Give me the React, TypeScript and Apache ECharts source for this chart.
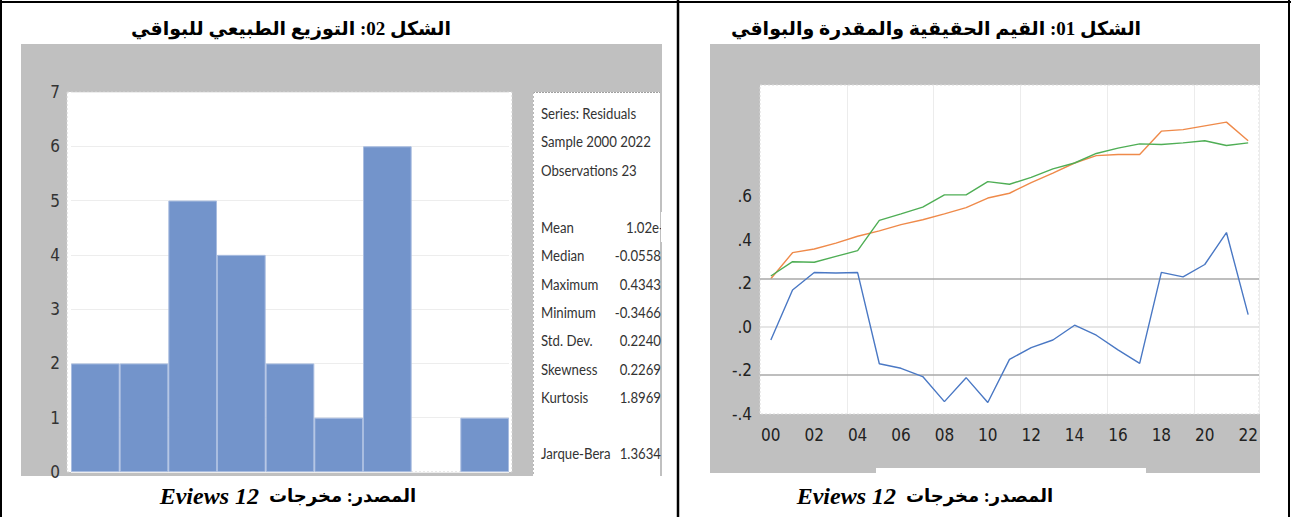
import React, { useEffect, useRef } from "react";
import * as echarts from "echarts";

// ---------- data ----------
const binLabels = ["-0.4", "-0.3", "-0.2", "-0.1", "0.0", "0.1", "0.2", "0.3", "0.4"];
const binCounts = [2, 2, 5, 4, 2, 1, 6, 0, 1];
const histTicks = [0, 1, 2, 3, 4, 5, 6, 7];

const statLabels = ["Mean", "Median", "Maximum", "Minimum", "Std. Dev.", "Skewness", "Kurtosis"];
const statValues = ["1.02e-17", "-0.0558", "0.4343", "-0.3466", "0.2240", "0.2269", "1.8969"];
const headerLines = ["Series: Residuals", "Sample 2000 2022", "Observations 23"];
const jbLabel = "Jarque-Bera";
const jbValue = "1.3634";

const years = ["00", "01", "02", "03", "04", "05", "06", "07", "08", "09", "10", "11",
  "12", "13", "14", "15", "16", "17", "18", "19", "20", "21", "22"];
const residual = [-0.060, 0.170, 0.250, 0.248, 0.250, -0.169, -0.190, -0.228, -0.343, -0.233,
  -0.347, -0.149, -0.095, -0.060, 0.008, -0.038, -0.105, -0.167, 0.251, 0.230, 0.287, 0.434, 0.057];
const actual = [2.55, 3.04, 3.11, 3.22, 3.35, 3.45, 3.57, 3.66, 3.77, 3.89, 4.07, 4.16,
  4.36, 4.54, 4.73, 4.87, 4.89, 4.89, 5.33, 5.36, 5.43, 5.50, 5.15];
const fitted = [2.60, 2.87, 2.86, 2.97, 3.08, 3.65, 3.77, 3.90, 4.13, 4.13, 4.38, 4.33,
  4.46, 4.62, 4.73, 4.91, 5.01, 5.09, 5.08, 5.11, 5.15, 5.06, 5.11];
const residStdDev = 0.224;

const titleLeft = "الشكل 02: التوزيع الطبيعي للبواقي";
const titleRight = "الشكل 01: القيم الحقيقية والمقدرة والبواقي";
const sourceArabic = "المصدر: مخرجات";
const sourceLatin = "Eviews 12";

// ---------- styles ----------
const GRAY = "#c0c0c0";
const NARROW = "'Liberation Sans Narrow', 'DejaVu Sans Condensed', 'Liberation Sans', sans-serif";
const STAT_FONT = "Lato, 'Open Sans', sans-serif";
const TITLE_FONT = "'Liberation Serif', 'DejaVu Sans', serif";

export default function App() {
  const ref = useRef<HTMLDivElement>(null);

  useEffect(() => {
    if (!ref.current) return;
    const chart = echarts.init(ref.current, undefined, { renderer: "svg" });

    const graphics: any[] = [];
    // table borders
    const line = (x1: number, y1: number, x2: number, y2: number, w = 2, color = "#000", z = 50, dash?: number[]) =>
      graphics.push({ type: "line", shape: { x1, y1, x2, y2 }, style: { stroke: color, lineWidth: w, lineDash: dash }, z });
    line(0, 2, 1291, 2);
    line(1, 0, 1, 517);
    line(678, 0, 678, 517, 2.5);
    line(1289, 0, 1289, 517);

    // panels
    graphics.push({ type: "rect", shape: { x: 21, y: 44, width: 641, height: 432 }, style: { fill: GRAY }, z: -20 });
    graphics.push({ type: "rect", shape: { x: 710, y: 44, width: 550, height: 429 }, style: { fill: GRAY }, z: -20 });
    graphics.push({ type: "rect", shape: { x: 67, y: 92, width: 445, height: 380 },
      style: { fill: "#fff", stroke: "#d2d2d2", lineWidth: 1, lineDash: [2, 2] }, z: -10 });
    graphics.push({ type: "rect", shape: { x: 533, y: 92, width: 127, height: 384 }, style: { fill: "#fff" }, z: -10 });
    line(533, 92.5, 660, 92.5, 1, "#a0a0a0", -9, [2, 1]);
    line(533.5, 92, 533.5, 476, 1, "#b8b8b8", -9, [2, 2]);
    graphics.push({ type: "rect", shape: { x: 760, y: 85, width: 499, height: 329 },
      style: { fill: "#fff", stroke: "#dadada", lineWidth: 1, lineDash: [2, 2] }, z: -10 });
    graphics.push({ type: "rect", shape: { x: 876, y: 468, width: 270, height: 6 }, style: { fill: "#fff" }, z: -5 });

    // titles
    graphics.push({ type: "text", x: 291, y: 28, style: { text: titleLeft, font: `bold 19px ${TITLE_FONT}`, fill: "#000", align: "center", verticalAlign: "middle" }, z: 20 });
    graphics.push({ type: "text", x: 936, y: 28, style: { text: titleRight, font: `bold 19px ${TITLE_FONT}`, fill: "#000", align: "center", verticalAlign: "middle" }, z: 20 });
    // sources
    const src = (cx: number) => {
      graphics.push({ type: "text", x: cx - 33, y: 496, style: { text: sourceLatin, font: `italic bold 24px ${TITLE_FONT}`, fill: "#000", align: "right", verticalAlign: "middle" }, z: 20 });
      graphics.push({ type: "text", x: cx - 23, y: 496, style: { text: sourceArabic, font: `bold 18px ${TITLE_FONT}`, fill: "#000", align: "left", verticalAlign: "middle" }, z: 20 });
    };
    src(292);
    src(929);

    // stats panel text
    const SX = 0.88;
    const statStyle = (text: string, align: string) => ({ text, font: `15px ${STAT_FONT}`, fill: "#333", align, verticalAlign: "middle" });
    const stat = (x: number, y: number, text: string, align: string) =>
      graphics.push({ type: "text", x, y, scaleX: SX, style: statStyle(text, align), z: 20 });
    headerLines.forEach((t, i) => stat(541, 113 + i * 28.5, t, "left"));
    statLabels.forEach((t, i) => {
      const y = 227 + i * 28.4;
      stat(541, y, t, "left");
      if (i === 0) stat(626, y, statValues[i], "left");
      else stat(661, y, statValues[i], "right");
    });
    stat(541, 453, jbLabel, "left");
    stat(661, 453, jbValue, "right");
    graphics.push({ type: "rect", shape: { x: 661, y: 212, width: 48, height: 30 }, style: { fill: "#fff" }, z: 30 });

    const resLabel = (v: number) => {
      if (v > 0.61) return "";
      const r = Math.round(v * 10);
      if (r === 0) return ".0";
      return (r < 0 ? "-" : "") + "." + Math.abs(r);
    };

    const barData = binCounts.map((c) => (c === 0 ? { value: c, itemStyle: { borderWidth: 0, opacity: 0 } } : c));

    chart.setOption({
      animation: false,
      graphic: { elements: graphics },
      grid: [
        { left: 71, top: 92, width: 438, height: 380 },
        { left: 760, top: 85, width: 499, height: 329 },
      ],
      xAxis: [
        { type: "category", gridIndex: 0, data: binLabels, axisLine: { show: false }, axisTick: { show: false }, axisLabel: { show: false }, splitLine: { show: false } },
        {
          type: "category", gridIndex: 1, data: years, boundaryGap: true,
          axisLine: { show: false }, axisTick: { show: false },
          axisLabel: { interval: 1, margin: 12, fontSize: 17, fontFamily: NARROW, color: "#222" },
          splitLine: { show: true, interval: (i: number) => i > 0 && i % 4 === 0, lineStyle: { color: "#ececec", width: 1 } },
        },
      ],
      yAxis: [
        {
          type: "value", gridIndex: 0, min: histTicks[0], max: histTicks[histTicks.length - 1], interval: 1,
          axisLine: { show: false }, axisTick: { show: false },
          axisLabel: { margin: 11, fontSize: 17, fontFamily: NARROW, color: "#333" },
          splitLine: { lineStyle: { color: "#ededed", width: 1 } },
        },
        {
          type: "value", gridIndex: 1, min: -0.4, max: 1.112, interval: 0.2,
          axisLine: { show: false }, axisTick: { show: false },
          axisLabel: { margin: 8, fontSize: 17, fontFamily: NARROW, color: "#222", formatter: resLabel },
          splitLine: { show: false },
        },
        { type: "value", gridIndex: 1, min: 0, max: 6.2, show: false, splitLine: { show: false } },
      ],
      series: [
        {
          type: "bar", xAxisIndex: 0, yAxisIndex: 0, data: barData, barCategoryGap: "0%",
          itemStyle: { color: "#7394cb", borderColor: "#a9bde0", borderWidth: 1 },
        },
        {
          type: "line", xAxisIndex: 1, yAxisIndex: 2, data: actual, symbol: "none",
          lineStyle: { color: "#ef8a4a", width: 1.4 }, z: 3,
        },
        {
          type: "line", xAxisIndex: 1, yAxisIndex: 2, data: fitted, symbol: "none",
          lineStyle: { color: "#4fae55", width: 1.4 }, z: 4,
        },
        {
          type: "line", xAxisIndex: 1, yAxisIndex: 1, data: residual, symbol: "none",
          lineStyle: { color: "#4a78c4", width: 1.4 }, z: 5,
          markLine: {
            silent: true, symbol: "none", label: { show: false },
            data: [
              { yAxis: residStdDev, lineStyle: { color: "#a9a9a9", width: 1.6, type: "solid" } },
              { yAxis: -residStdDev, lineStyle: { color: "#a9a9a9", width: 1.6, type: "solid" } },
              { yAxis: 0, lineStyle: { color: "#dedede", width: 1.6, type: "solid" } },
            ],
          },
        },
      ],
    });
    return () => chart.dispose();
  }, []);

  return <div ref={ref} style={{ position: "fixed", left: 0, top: 0, width: 1291, height: 517, background: "#fff" }} />;
}
